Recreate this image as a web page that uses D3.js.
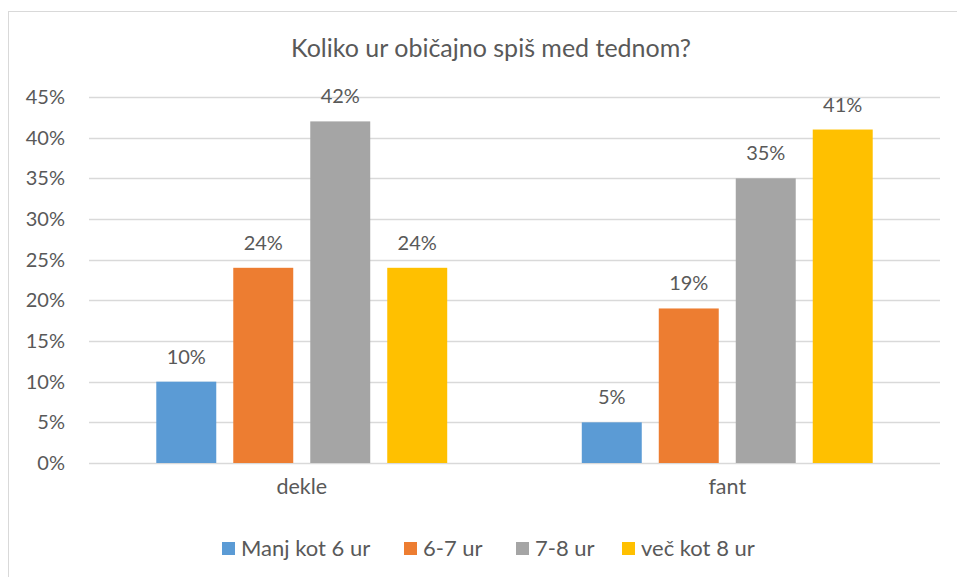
<!DOCTYPE html>
<html>
<head>
<meta charset="utf-8">
<script src="https://cdn.jsdelivr.net/npm/d3@7"></script>
<style>
  body { margin: 0; background: #fff; }
  svg text { font-family: Lato, "Open Sans", sans-serif; fill: #595959; }
</style>
</head>
<body>
<div id="chart"></div>
<script>
// data
const groups = ["dekle", "fant"];
const series = ["Manj kot 6 ur", "6-7 ur", "7-8 ur", "več kot 8 ur"];
const dekleValues = [10, 24, 42, 24];
const fantValues = [5, 19, 35, 41];
const yTicks = [0, 5, 10, 15, 20, 25, 30, 35, 40, 45];
const colors = ["#5B9BD5", "#ED7D31", "#A5A5A5", "#FFC000"];
const title = "Koliko ur običajno spiš med tednom?";

let values = { dekle: dekleValues, fant: fantValues };
let rows = [];
groups.forEach(g => series.forEach((s, i) => rows.push({ group: g, series: s, value: values[g][i] })));

let W = 957, H = 577;
let margin = { top: 97, right: 17, bottom: 114, left: 89 };
let width = W - margin.left - margin.right;
let height = H - margin.top - margin.bottom;

let svg = d3.select("#chart")
    .append("svg")
    .attr("width", W)
    .attr("height", H);

// chart frame
svg.append("rect")
    .attr("x", 8.5)
    .attr("y", 11.5)
    .attr("width", 980)
    .attr("height", 620)
    .attr("fill", "none")
    .attr("stroke", "#D9D9D9");

svg.append("text")
    .attr("x", 491)
    .attr("y", 57)
    .attr("text-anchor", "middle")
    .style("font-size", "25px")
    .text(title);

let g = svg.append("g")
    .attr("transform", `translate(${margin.left}, ${margin.top})`);

let y = d3.scaleLinear()
    .domain([0, 45])
    .range([height, 0]);

let x0 = d3.scaleBand()
    .domain(groups)
    .range([0, width]);

let x1 = d3.scaleBand()
    .domain(series)
    .range([0, x0.bandwidth()])
    .paddingInner(0.221)
    .paddingOuter(0.874);

let color = d3.scaleOrdinal().domain(series).range(colors);

// grid
g.append("g")
    .selectAll("line")
    .data(yTicks)
    .join("line")
    .attr("x1", 0)
    .attr("x2", width)
    .attr("y1", d => Math.round(y(d)) + 0.5)
    .attr("y2", d => Math.round(y(d)) + 0.5)
    .attr("stroke", "#D9D9D9")
    .attr("stroke-width", 1.3);

// y axis labels
let yAxis = g.append("g")
    .attr("transform", "translate(-24, 0)")
    .call(d3.axisLeft(y).tickValues(yTicks).tickSize(0).tickFormat(d => d + "%"));
yAxis.select(".domain").remove();
yAxis.selectAll("text")
    .attr("x", 0)
    .style("font-size", "20px")
    .style("font-family", "Lato, sans-serif")
    .attr("fill", "#595959");

// bars
g.selectAll(".bar")
    .data(rows)
    .join("rect")
    .attr("class", "bar")
    .attr("x", d => x0(d.group) + x1(d.series))
    .attr("y", d => y(d.value))
    .attr("width", x1.bandwidth())
    .attr("height", d => height - y(d.value))
    .attr("fill", d => color(d.series));

// value labels
g.selectAll(".plotText")
    .data(rows)
    .join("text")
    .attr("class", "plotText")
    .attr("x", d => x0(d.group) + x1(d.series) + x1.bandwidth() / 2)
    .attr("y", d => y(d.value) - 18)
    .attr("text-anchor", "middle")
    .style("font-size", "20px")
    .text(d => d.value + "%");

// x axis labels
let xAxis = g.append("g")
    .attr("transform", `translate(0, ${height + 13})`)
    .call(d3.axisBottom(x0).tickSize(0));
xAxis.select(".domain").remove();
xAxis.selectAll("text")
    .style("font-size", "21.5px")
    .style("font-family", "Lato, sans-serif")
    .attr("fill", "#595959");

// legend
let legendX = [222, 404, 516, 622];
let legend = svg.append("g")
    .selectAll("g")
    .data(series)
    .join("g")
    .attr("transform", (d, i) => `translate(${legendX[i]}, 542)`);

legend.append("rect")
    .attr("width", 13)
    .attr("height", 13)
    .attr("fill", d => color(d));

legend.append("text")
    .attr("x", 19)
    .attr("y", 14)
    .style("font-size", "22px")
    .text(d => d);
</script>
</body>
</html>
